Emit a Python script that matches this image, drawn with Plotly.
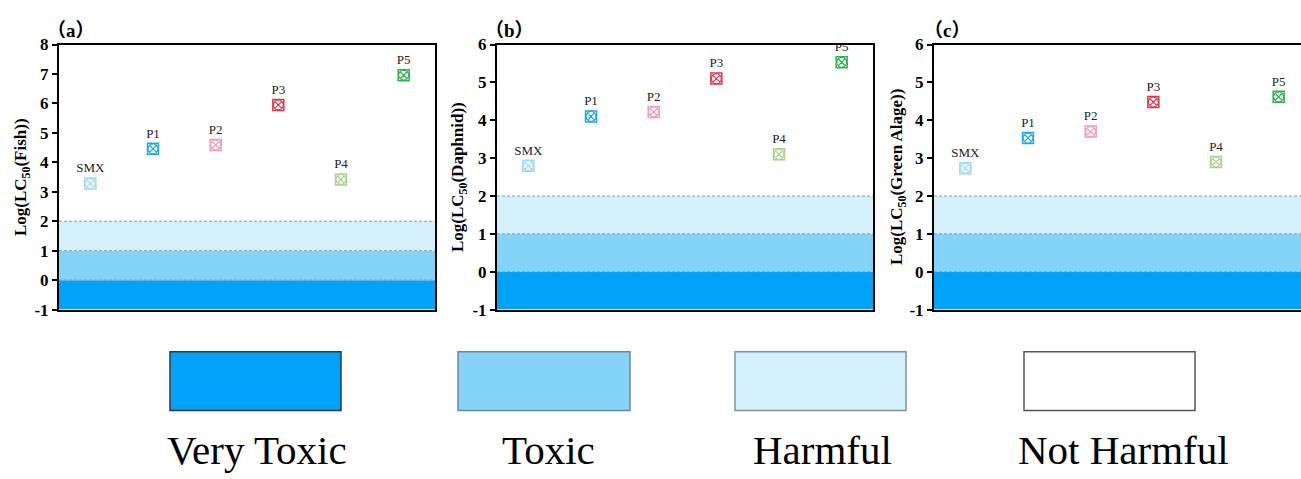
import plotly.graph_objects as go

W, H = 1301, 479
SERIF = "Liberation Serif, Times New Roman, serif"
CJK = "Noto Sans CJK SC"

# ---- data -------------------------------------------------------------
compounds = ["SMX", "P1", "P2", "P3", "P4", "P5"]
positions = [1, 2, 3, 4, 5, 6]
point_colors = ["#9fd8f6", "#22a8e2", "#f29ac0", "#e0384a", "#acd38e", "#2db34f"]

log_lc50_fish = [3.28, 4.46, 4.59, 5.95, 3.42, 6.96]
log_lc50_daphnid = [2.80, 4.10, 4.22, 5.10, 3.10, 5.53]
log_lc50_algae = [2.73, 3.53, 3.70, 4.48, 2.90, 4.62]

# toxicity classes (lower / upper bound of log LC50)
levels = ["Very Toxic", "Toxic", "Harmful", "Not Harmful"]
level_lower = [-1, 0, 1, 2]
level_upper = [0, 1, 2, None]
level_colors = ["#00a3f7", "#86d3fa", "#d4f1fb", "#ffffff"]
level_borders = ["#2a3a44", "#708894", "#7f9299", "#555555"]
thresholds = [0, 1, 2]

panels = [
    dict(letter="a", title="Log(LC<sub>50</sub>(Fish))", values=log_lc50_fish, ymax=8,
         px=(59, 435), xmax=6.5, title_x=22, label_x=71, frame_right=True),
    dict(letter="b", title="Log(LC<sub>50</sub>(Daphnid))", values=log_lc50_daphnid, ymax=6,
         px=(497, 873), xmax=6.5, title_x=459, label_x=509, frame_right=True),
    dict(letter="c", title="Log(LC<sub>50</sub>(Green Alage))", values=log_lc50_algae, ymax=6,
         px=(934, 1301), xmax=0.5 + 6 * 367 / 376, title_x=898, label_x=947, frame_right=False),
]
PLOT_TOP, PLOT_BOTTOM = 37, 313


def fx(px):
    return px / W


def fy(py):
    return 1 - py / H


def panel_label(letter):
    # full-width brackets from the CJK face, letter in bold serif
    return (f"<b><span style='font-family:{CJK}'>（</span>{letter}"
            f"<span style='font-family:{CJK}'>）</span></b>")


fig = go.Figure()
shapes = []
annotations = []

for i, p in enumerate(panels, start=1):
    xa = "x" if i == 1 else f"x{i}"
    ya = "y" if i == 1 else f"y{i}"
    xkey = "xaxis" if i == 1 else f"xaxis{i}"
    ykey = "yaxis" if i == 1 else f"yaxis{i}"

    # toxicity bands
    for lo, hi, col in zip(level_lower, level_upper, level_colors):
        if hi is None:
            continue
        shapes.append(dict(type="rect", xref=f"{xa} domain", yref=ya, x0=0, x1=1, y0=lo, y1=hi,
                           fillcolor=col, line=dict(width=0), layer="below"))
    for t in thresholds:
        shapes.append(dict(type="line", xref=f"{xa} domain", yref=ya, x0=0, x1=1, y0=t, y1=t,
                           line=dict(color="#8c9aa3", width=1, dash="3px,2px"), layer="below"))

    # points: square outline + circled cross
    fig.add_trace(go.Scatter(
        x=positions, y=p["values"], xaxis=xa, yaxis=ya, mode="markers+text",
        text=compounds, textposition="top center",
        textfont=dict(family=SERIF, size=13, color="#222222"),
        marker=dict(symbol="square-open", size=11, color=point_colors, line=dict(width=1.5)),
        showlegend=False, hoverinfo="skip"))
    fig.add_trace(go.Scatter(
        x=positions, y=p["values"], xaxis=xa, yaxis=ya, mode="markers",
        marker=dict(symbol="circle-x-open", size=10, color=point_colors, line=dict(width=1.2)),
        showlegend=False, hoverinfo="skip"))

    ticks = list(range(-1, p["ymax"] + 1))
    fig.layout[xkey] = dict(
        domain=[fx(p["px"][0]), fx(p["px"][1])], range=[0.5, p["xmax"]],
        showgrid=False, zeroline=False, showticklabels=False, ticks="",
        showline=True, linecolor="black", linewidth=2, mirror=True, anchor=ya)
    fig.layout[ykey] = dict(
        domain=[fy(PLOT_BOTTOM), fy(PLOT_TOP)], range=[-1, p["ymax"]],
        tickvals=ticks, ticktext=[f"<b>{t}</b>" for t in ticks],
        tickfont=dict(family=SERIF, size=17, color="black"),
        ticks="outside", ticklen=5, tickwidth=2, tickcolor="black",
        showgrid=False, zeroline=False,
        showline=True, linecolor="black", linewidth=2, mirror=p["frame_right"], anchor=xa)

    annotations.append(dict(
        text=f"<b>{p['title']}</b>", textangle=-90, xref="paper", yref="paper",
        x=fx(p["title_x"]), y=fy((PLOT_TOP + PLOT_BOTTOM) / 2), xanchor="center", yanchor="middle",
        showarrow=False, font=dict(family=SERIF, size=17, color="black")))
    annotations.append(dict(
        text=panel_label(p["letter"]), xref="paper", yref="paper",
        x=fx(p["label_x"]), y=fy(20), xanchor="center", yanchor="middle",
        showarrow=False, font=dict(family=SERIF, size=19, color="black")))

# toxicity class key
key_boxes = [(170, 341), (458, 630), (735, 906), (1024, 1195)]
key_text_x = [257, 548, 822, 1123]
for name, col, border, (x0, x1), tx in zip(levels, level_colors, level_borders, key_boxes, key_text_x):
    shapes.append(dict(type="rect", xref="paper", yref="paper",
                       x0=fx(x0), x1=fx(x1), y0=fy(418), y1=fy(357),
                       fillcolor=col, line=dict(color=border, width=1.5)))
    annotations.append(dict(
        text=name, xref="paper", yref="paper", x=fx(tx), y=fy(459),
        xanchor="center", yanchor="middle", showarrow=False,
        font=dict(family=SERIF, size=41, color="black")))

fig.update_layout(
    width=W, height=H, autosize=False,
    margin=dict(l=0, r=0, t=0, b=0),
    paper_bgcolor="white", plot_bgcolor="white",
    shapes=shapes, annotations=annotations, showlegend=False)

fig.write_html("out.html", config={"displayModeBar": False})
